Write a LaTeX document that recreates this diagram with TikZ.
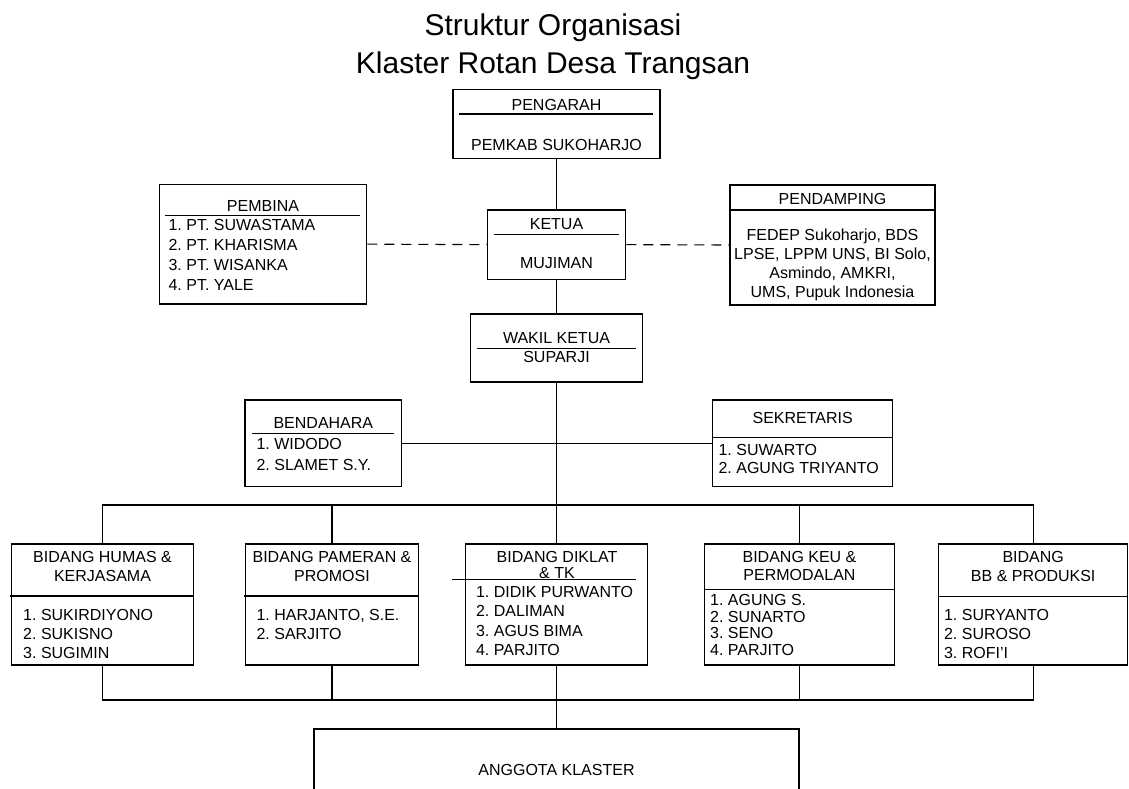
\documentclass[tikz,border=0pt]{standalone}
\usepackage{fontspec}
\setmainfont{Liberation Sans}
\frenchspacing
\begin{document}
\begin{tikzpicture}[x=1pt,y=-1pt,line width=1.1pt,
    box/.style={draw,inner sep=0pt},
    txt/.style={inner sep=0pt,align=center,font=\fontsize{16}{#1}\selectfont},
    txt/.default=19,
    lst/.style={inner sep=0pt,align=left,anchor=west,font=\fontsize{16}{#1}\selectfont},
    lst/.default=19.5]
    \useasboundingbox (0,0) rectangle (1129,789);
    \clip (0,0) rectangle (1129,789);

    \node[anchor=base,inner sep=0pt,font=\fontsize{30}{36}\selectfont] (judul) at (553,36) {Struktur Organisasi};
    \node[anchor=base,inner sep=0pt,font=\fontsize{30}{36}\selectfont] (judulb) at (553,74) {Klaster Rotan Desa Trangsan};

    \node[box,minimum width=207pt,minimum height=69pt] (pengarah) at (556.5,123.8) {};
    \draw (459,114)--(653,114);
    \node[txt] (pengarahT) at (556.5,105) {PENGARAH};
    \node[txt] (pemkab) at (556.5,145) {PEMKAB SUKOHARJO};

    \node[box,minimum width=138.4pt,minimum height=69.3pt] (ketua) at (556.5,244.65) {};
    \draw (494,234.7)--(619,234.7);
    \node[txt] (ketuaT) at (556.5,224) {KETUA};
    \node[txt] (mujiman) at (556.5,263) {MUJIMAN};

    \node[box,minimum width=207.4pt,minimum height=119.7pt] (pembina) at (263,244.15) {};
    \draw (165,215.7)--(360,215.7);
    \node[txt] (pembinaT) at (263,205.7) {PEMBINA};
    \node[lst=20] (pembinaL) at (168,255) {1. PT. SUWASTAMA\\2. PT. KHARISMA\\3. PT. WISANKA\\4. PT. YALE};

    \node[box,minimum width=205pt,minimum height=120pt] (pendamping) at (832.5,245) {};
    \draw (730,210)--(935,210);
    \node[txt] (pendampingT) at (832.5,199) {PENDAMPING};
    \node[txt=19] (pendampingL) at (832.5,265) {FEDEP Sukoharjo, BDS\\LPSE, LPPM UNS, BI Solo,\\Asmindo, AMKRI,\\UMS, Pupuk Indonesia};

    \draw[dash pattern=on 10pt off 7pt] (pembina.east) -- (ketua.west);
    \draw[dash pattern=on 10pt off 7pt] (ketua.east) -- (pendamping.west);

    \node[box,minimum width=172pt,minimum height=68pt] (wakil) at (556.5,348) {};
    \draw (477,348.3)--(636,348.3);
    \node[txt] (wakilT) at (556.5,338) {WAKIL KETUA};
    \node[txt] (suparji) at (556.5,357) {SUPARJI};

    \node[box,minimum width=156.7pt,minimum height=86.7pt] (bendahara) at (323.35,443.35) {};
    \draw (251.7,433.3)--(394,433.3);
    \node[txt] (bendaharaT) at (323.35,423.3) {BENDAHARA};
    \node[lst=20.7] (bendaharaL) at (256,454.7) {1. WIDODO\\2. SLAMET S.Y.};

    \node[box,minimum width=180pt,minimum height=86.7pt] (sekretaris) at (802.7,443.35) {};
    \draw (712.7,437.3)--(892.7,437.3);
    \node[txt] (sekretarisT) at (802.7,418.3) {SEKRETARIS};
    \node[lst=18.3] (sekretarisL) at (718,459.2) {1. SUWARTO\\2. AGUNG TRIYANTO};

    \draw (bendahara.east) -- (sekretaris.west);

    \node[box,minimum width=181.6pt,minimum height=121pt] (humas) at (102.5,604.5) {};
    \draw (10,596)--(193.3,596);
    \node[txt=19.3] (humasT) at (102.5,566.3) {BIDANG HUMAS \&\\KERJASAMA};
    \node[lst=19.2] (humasL) at (22.7,634) {1. SUKIRDIYONO\\2. SUKISNO\\3. SUGIMIN};

    \node[box,minimum width=172.6pt,minimum height=121pt] (pameran) at (332,604.5) {};
    \draw (244.3,596)--(418.3,596);
    \node[txt=19.3] (pameranT) at (332,566.3) {BIDANG PAMERAN \&\\PROMOSI};
    \node[lst=19.2] (pameranL) at (256,624.5) {1. HARJANTO, S.E.\\2. SARJITO};

    \node[box,minimum width=181.5pt,minimum height=121pt] (diklat) at (556.5,604.5) {};
    \draw (452,579.3)--(636,579.3);
    \node[txt=16] (diklatT) at (557,565.3) {BIDANG DIKLAT\\\& TK};
    \node[lst=19.4] (diklatL) at (475.5,620.8) {1. DIDIK PURWANTO\\2. DALIMAN\\3. AGUS BIMA\\4. PARJITO};

    \node[box,minimum width=190.3pt,minimum height=121pt] (keu) at (799.5,604.5) {};
    \draw (704.3,589.3)--(894.6,589.3);
    \node[txt=18] (keuT) at (799.5,566) {BIDANG KEU \&\\PERMODALAN};
    \node[lst=16.7] (keuL) at (709.6,625) {1. AGUNG S.\\2. SUNARTO\\3. SENO\\4. PARJITO};

    \node[box,minimum width=189pt,minimum height=121pt] (bb) at (1033.2,604.5) {};
    \draw (938.7,596.7)--(1127.7,596.7);
    \node[txt=19.3] (bbT) at (1033.2,566.3) {BIDANG\\BB \& PRODUKSI};
    \node[lst=19.2] (bbL) at (943.5,634) {1. SURYANTO\\2. SUROSO\\3. ROFI’I};

    \node[box,minimum width=485pt,minimum height=81pt,font=\fontsize{16}{19}\selectfont] (anggota) at (556.5,769.5) {ANGGOTA KLASTER};

    \coordinate (bus) at (556.5,505);
    \coordinate (bawah) at (556.5,700);

    \draw (pengarah) -- (ketua);
    \draw (ketua) -- (wakil);
    \draw (wakil.south) -- (bus);
    \foreach \b in {humas,pameran,diklat,keu,bb}
        \draw (\b.north) |- (bus) (\b.south) |- (bawah);
    \draw (bawah) -- (anggota.north);
\end{tikzpicture}
\end{document}
